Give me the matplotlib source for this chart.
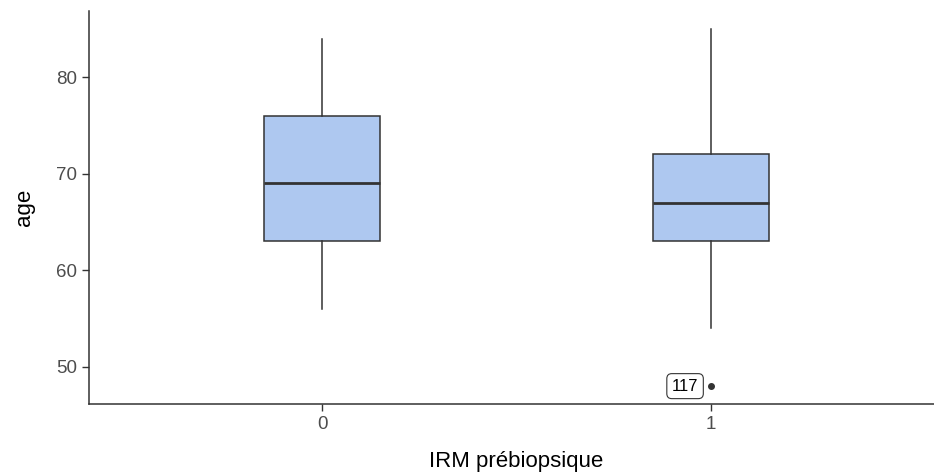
import matplotlib
matplotlib.use('Agg')
import matplotlib.pyplot as plt

plt.rcParams['font.family'] = ['Liberation Sans', 'DejaVu Sans']

# values
groups = ['0', '1']
q1 = [63, 63]
med = [69, 67]
q3 = [76, 72]
wlo = [56, 54]
whi = [84, 85]
outliers = [[], [48]]
outlier_ids = [[], ['117']]

fill = '#aec8f0'
edge = '#333333'

fig = plt.figure(figsize=(9.34, 4.73), dpi=100)
ax = fig.add_axes([89/934, 69/473, 855/934, 393/473])

stats = []
for i in range(len(groups)):
    stats.append({'med': med[i], 'q1': q1[i], 'q3': q3[i],
                  'whislo': wlo[i], 'whishi': whi[i], 'fliers': outliers[i]})

pos = list(range(1, len(groups) + 1))
ax.bxp(stats, positions=pos, widths=0.3, patch_artist=True, showcaps=False,
       boxprops=dict(facecolor=fill, edgecolor=edge, linewidth=1.1),
       medianprops=dict(color=edge, linewidth=2),
       whiskerprops=dict(color=edge, linewidth=1.1),
       flierprops=dict(marker='o', markerfacecolor=edge, markeredgecolor=edge, markersize=4))

# outlier labels
for i, ids in enumerate(outlier_ids):
    for v, lab in zip(outliers[i], ids):
        ax.annotate(lab, (pos[i], v), xytext=(-9, 0), textcoords='offset points',
                    ha='right', va='center', fontsize=12, color='black',
                    bbox=dict(boxstyle='round,pad=0.3,rounding_size=0.3', fc='white', ec=edge, lw=0.8))

ax.set_xlim(0.4, 2.6)
ax.set_ylim(46.15, 86.85)
ax.set_xticks(pos)
ax.set_xticklabels(groups)
ax.set_yticks([50, 60, 70, 80])
ax.tick_params(colors='#333333', labelcolor='#4d4d4d', labelsize=13.5, length=5, width=1)
for s in ['top', 'right']:
    ax.spines[s].set_visible(False)
for s in ['left', 'bottom']:
    ax.spines[s].set_color('#333333')
    ax.spines[s].set_linewidth(1.1)

ax.set_xlabel('IRM prébiopsique', fontsize=16, labelpad=13)
ax.set_ylabel('age', fontsize=16, labelpad=15)

fig.savefig('out.png', dpi=100)
